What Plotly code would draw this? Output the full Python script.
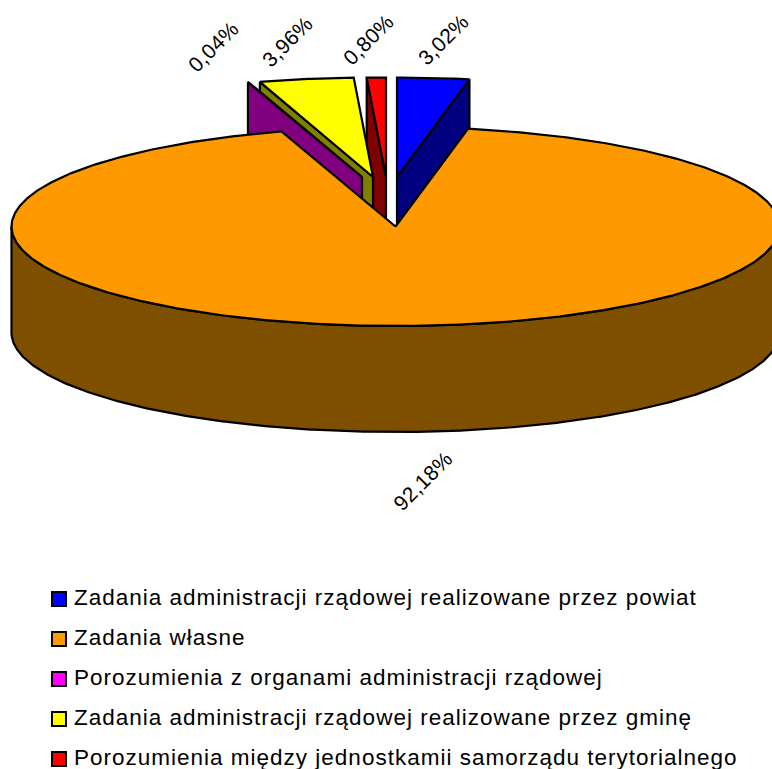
import numpy as np
import plotly.graph_objects as go

# Data
categories = [
    "Zadania administracji rządowej realizowane przez powiat",
    "Zadania własne",
    "Porozumienia z organami administracji rządowej",
    "Zadania administracji rządowej realizowane przez gminę",
    "Porozumienia między jednostkamii samorządu terytorialnego",
]
values = [3.02, 92.18, 0.04, 3.96, 0.80]
value_labels = ["3,02%", "92,18%", "0,04%", "3,96%", "0,80%"]

# Styling and geometry
top_colors = ["#0000FF", "#FF9900", "#FF00FF", "#FFFF00", "#FF0000"]
wall_colors = ["#000080", "#7F4F00", "#800080", "#808000", "#800000"]
explode_dx = [1.5, 0, -33.5, -22.5, -9.5]
explode_dy = [-49.5, 0, -49.5, -49.5, -49.5]
label_x = [443, 422, 213, 287, 368]
label_y = [39, 481, 46, 41, 39]
draw_order = [0, 4, 3, 2, 1]
CX, CY, RX, RY, DEPTH = 395.5, 226.5, 384.0, 99.5, 106.0
LEGEND_X, LEGEND_TEXT_X = 59, 74
LEGEND_Y0, LEGEND_STEP = 599, 40
FONT = "Liberation Sans, Arial, sans-serif"
LABEL_SIZE = 21
LEGEND_SIZE = 22.5
LINE_W = 2.2


def rim(a0, a1):
    t = np.radians(np.linspace(a0, a1, max(int(abs(a1 - a0) * 2), 2)))
    return RX * np.sin(t), -RY * np.cos(t)


def poly(fig, x, y, color):
    fig.add_trace(go.Scatter(
        x=np.r_[x, x[0]], y=np.r_[y, y[0]], mode="lines", fill="toself",
        fillcolor=color, line=dict(color="black", width=LINE_W),
        hoverinfo="skip", showlegend=False,
    ))


ends = np.cumsum(values) / np.sum(values) * 360.0
starts = np.r_[0.0, ends[:-1]]

fig = go.Figure()
for i in draw_order:
    a0, a1 = starts[i], ends[i]
    ox, oy = CX + explode_dx[i], CY + explode_dy[i]
    rx, ry = rim(a0, a1)
    if a1 - a0 > 180:
        # Large slice: outer side wall on the near half of the rim
        wx, wy = rim(90, 270)
        poly(fig, np.r_[ox + wx, (ox + wx)[::-1]],
             np.r_[oy + wy + DEPTH, (oy + wy)[::-1]], wall_colors[i])
    else:
        # Small slice: cut-face wall on the radial edge facing the viewer
        edge = a1 if (a0 + a1) / 2 < 180 else a0
        ex, ey = rim(edge, edge + 0.001)
        ex, ey = ox + ex[0], oy + ey[0]
        poly(fig, np.array([ox, ex, ex, ox]),
             np.array([oy, ey, ey + DEPTH, oy + DEPTH]), wall_colors[i])
    poly(fig, np.r_[ox, ox + rx], np.r_[oy, oy + ry], top_colors[i])

# Legend rows
rows = [LEGEND_Y0 + LEGEND_STEP * k for k in range(len(categories))]
fig.add_trace(go.Scatter(
    x=[LEGEND_X] * len(categories), y=rows, mode="markers",
    marker=dict(symbol="square", size=14, color=top_colors,
                line=dict(color="black", width=2)),
    hoverinfo="skip", showlegend=False,
))
fig.add_trace(go.Scatter(
    x=[LEGEND_TEXT_X] * len(categories), y=rows, mode="text",
    text=categories, textposition="middle right",
    textfont=dict(family=FONT, size=LEGEND_SIZE, color="black"),
    cliponaxis=False, hoverinfo="skip", showlegend=False,
))

annotations = [
    dict(x=x, y=y, text=t, textangle=-45, showarrow=False,
         font=dict(family=FONT, size=LABEL_SIZE, color="black"),
         xref="x", yref="y")
    for x, y, t in zip(label_x, label_y, value_labels)
]

fig.update_layout(
    width=772, height=769, margin=dict(l=0, r=0, t=0, b=0),
    paper_bgcolor="white", plot_bgcolor="white", showlegend=False,
    xaxis=dict(range=[0, 772], visible=False, fixedrange=True),
    yaxis=dict(range=[769, 0], visible=False, fixedrange=True),
    annotations=annotations,
)
css = ".textpoint text{letter-spacing:1px}.annotation-text{letter-spacing:.3px}"
fig.write_html(
    "out.html", config={"displayModeBar": False},
    post_script=(
        "document.body.style.margin='0';"
        "var s=document.createElement('style');s.textContent='" + css + "';"
        "document.head.appendChild(s);"
    ),
)
